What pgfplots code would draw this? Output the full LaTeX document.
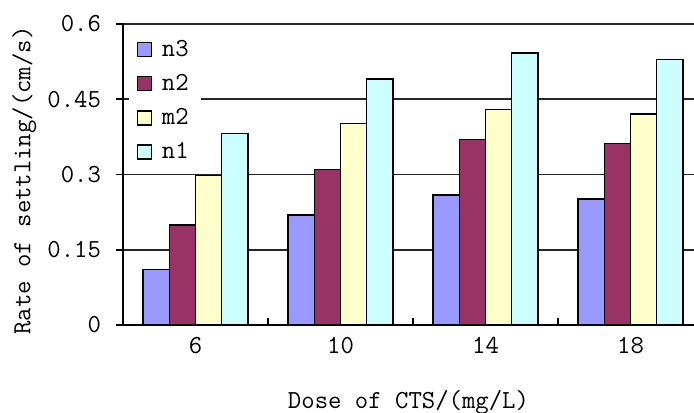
\documentclass[border=0pt]{standalone}
\usepackage{pgfplots}
\pgfplotsset{compat=1.18}
\usepackage{fontspec}
\definecolor{cnthree}{RGB}{153,153,255}
\definecolor{cntwo}{RGB}{153,51,102}
\definecolor{cmtwo}{RGB}{255,255,204}
\definecolor{cnone}{RGB}{204,255,255}
\begin{document}
\begin{tikzpicture}[font=\ttfamily\fontsize{13pt}{15pt}\selectfont]
\begin{axis}[
  scale only axis, width=285.5pt, height=150.5pt,
  xmin=-0.5, xmax=3.438, ymin=0, ymax=0.6,
  axis line style={draw=none},
  xtick pos=left, ytick pos=left,
  tick align=inside,
  ybar=0pt, bar width=13.1pt,
  xtick={0,1,2,3}, xticklabels={6,10,14,18},
  major x tick style={draw=none},
  minor xtick={-0.5,0.5,1.5,2.5},
  minor tick length=-3.5pt, major tick length=-3.5pt,
  minor x tick style={line width=0.8pt, black},
  ytick={0,0.15,0.3,0.45,0.6},
  yticklabels={0,0.15,0.3,0.45,0.6},
  y tick style={line width=0.8pt, black},
  yticklabel style={xshift=-7.5pt},
  xticklabel style={yshift=-6pt},
  ymajorgrids,
  major grid style={line width=0.9pt, color=black!85},
  xlabel={Dose of CTS/(mg/L)},
  xlabel style={at={(axis description cs:0.5,0)}, anchor=base, yshift=-42pt},
  ylabel={Rate of settling/(cm/s)},
  ylabel style={at={(axis description cs:-0.173,0.48)}, anchor=center},
  legend style={at={(rel axis cs:0.009,0.975)}, anchor=north west, draw=none, fill=white,
    inner xsep=4pt, inner ysep=2pt, row sep=3.5pt, font=\ttfamily\fontsize{13pt}{15pt}\selectfont},
  legend cell align=left,
  every axis plot/.append style={draw=black, line width=0.75pt},
]
\addplot[fill=cnthree, legend image code/.code={\draw[fill=cnthree,draw=black,line width=0.7pt] (2pt,-3.5pt) rectangle (9pt,3.5pt); \path (12pt,0pt);}]
  coordinates {(0,0.111) (1,0.219) (2,0.259) (3,0.251)};
\addplot[fill=cntwo, legend image code/.code={\draw[fill=cntwo,draw=black,line width=0.7pt] (2pt,-3.5pt) rectangle (9pt,3.5pt); \path (12pt,0pt);}]
  coordinates {(0,0.199) (1,0.310) (2,0.370) (3,0.362)};
\addplot[fill=cmtwo, legend image code/.code={\draw[fill=cmtwo,draw=black,line width=0.7pt] (2pt,-3.5pt) rectangle (9pt,3.5pt); \path (12pt,0pt);}]
  coordinates {(0,0.298) (1,0.402) (2,0.430) (3,0.421)};
\addplot[fill=cnone, legend image code/.code={\draw[fill=cnone,draw=black,line width=0.7pt] (2pt,-3.5pt) rectangle (9pt,3.5pt); \path (12pt,0pt);}]
  coordinates {(0,0.382) (1,0.490) (2,0.542) (3,0.529)};
\legend{n3,n2,m2,n1}
\coordinate (ll) at (rel axis cs:0,0);
\coordinate (ur) at (rel axis cs:1,1);
\coordinate (ul) at (rel axis cs:0,1);
\coordinate (lr) at (rel axis cs:1,0);
\end{axis}
\draw[line width=1pt, line cap=rect] (ul) -- (ll) -- (lr);
\pgfresetboundingbox
\path[use as bounding box] ([xshift=-61.5pt,yshift=-44pt]ll) rectangle ([yshift=12pt]ur);
\end{tikzpicture}
\end{document}
